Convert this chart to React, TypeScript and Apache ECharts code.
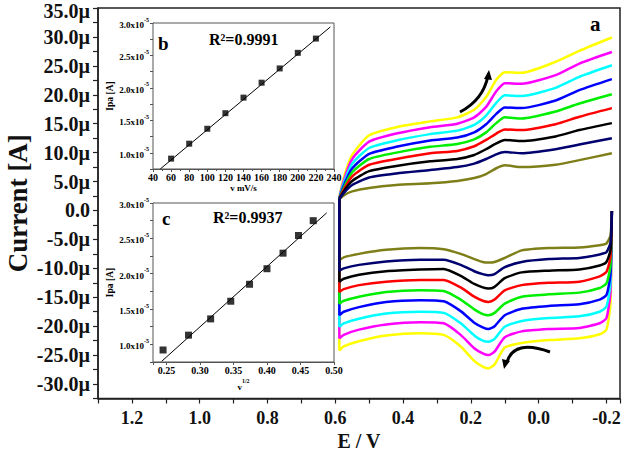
import React, { useEffect, useRef } from "react";
import * as echarts from "echarts";

const FONT = "'Liberation Serif', 'Times New Roman', Times, serif";

// ---- main cyclic voltammograms (E in V, current in µA) ----
const E_LOWER = [-0.216, -0.212, -0.2, -0.18, -0.12, -0.03, 0.05, 0.1, 0.13, 0.148, 0.165, 0.19, 0.23, 0.28, 0.35, 0.45, 0.53, 0.575, 0.588];
const E_UPPER = [0.588, 0.575, 0.55, 0.5, 0.42, 0.32, 0.24, 0.19, 0.155, 0.125, 0.1, 0.05, -0.05, -0.12, -0.216];

const lowerOlive = [-0.1, -4.3, -5.7, -6.0, -6.4, -6.5, -6.9, -8.2, -8.9, -9.0, -8.9, -8.4, -7.5, -6.7, -6.5, -6.8, -7.5, -8.1, -8.6];
const lowerNavy = [-0.1, -5.5, -7.2, -7.6, -8.2, -8.4, -8.9, -9.8, -11.0, -11.2, -11.0, -10.5, -9.4, -8.5, -8.5, -8.8, -9.4, -10.0, -10.4];
const lowerBlack = [-0.1, -6.8, -8.9, -9.5, -10.2, -10.4, -10.7, -11.7, -13.2, -13.5, -13.3, -12.7, -11.3, -10.1, -10.2, -10.5, -11.1, -11.8, -12.3];
const lowerRed = [-0.1, -8.0, -10.6, -11.4, -12.3, -12.5, -12.9, -13.8, -15.4, -15.8, -15.6, -14.9, -13.3, -12.0, -12.0, -12.3, -12.9, -13.6, -14.1];
const lowerGreen = [-0.1, -9.5, -12.6, -13.4, -14.2, -14.5, -14.9, -16.1, -17.7, -18.1, -17.9, -17.1, -15.4, -13.9, -13.8, -14.1, -14.9, -15.6, -16.1];
const lowerBlue = [-0.1, -11.0, -14.6, -15.4, -16.2, -16.5, -17.0, -18.1, -20.0, -20.5, -20.2, -19.4, -17.4, -15.7, -15.5, -15.8, -16.7, -17.5, -18.1];
const lowerCyan = [-0.1, -12.5, -16.6, -17.5, -18.3, -18.6, -19.1, -20.1, -22.2, -22.7, -22.5, -21.6, -19.5, -17.7, -17.5, -17.8, -18.7, -19.5, -20.1];
const lowerMagenta = [-0.1, -14.0, -18.6, -19.5, -20.3, -20.5, -20.9, -21.9, -24.4, -25.0, -24.7, -23.8, -21.5, -19.5, -19.3, -19.7, -20.6, -21.5, -22.1];
const lowerYellow = [-0.1, -16.0, -20.6, -21.4, -22.1, -22.4, -22.9, -23.7, -26.6, -27.3, -27.0, -26.0, -23.5, -21.5, -21.2, -21.6, -22.6, -23.5, -24.2];

const upperOlive = [1.8, 2.6, 3.3, 3.9, 4.4, 4.7, 5.1, 5.6, 6.3, 7.3, 7.8, 7.5, 7.9, 8.7, 9.9];
const upperNavy = [1.8, 3.0, 4.4, 5.7, 6.4, 7.0, 7.5, 8.1, 8.9, 9.7, 10.1, 9.9, 10.6, 11.4, 12.5];
const upperBlack = [1.8, 3.3, 5.1, 6.8, 7.7, 8.5, 8.9, 9.6, 10.6, 11.6, 12.2, 12.0, 12.8, 13.9, 15.1];
const upperRed = [1.8, 3.6, 5.9, 7.9, 8.9, 9.9, 10.3, 11.1, 12.2, 13.3, 14.0, 13.9, 14.9, 16.2, 17.7];
const upperGreen = [1.8, 3.9, 6.6, 8.9, 10.0, 11.0, 11.5, 12.3, 13.5, 15.1, 16.1, 15.9, 17.1, 18.5, 20.1];
const upperBlue = [1.8, 4.3, 7.3, 9.8, 11.0, 12.1, 12.6, 13.5, 14.9, 16.7, 17.8, 17.7, 19.0, 20.8, 22.7];
const upperCyan = [1.8, 4.7, 8.1, 10.8, 12.1, 13.2, 13.8, 14.8, 16.4, 18.6, 19.9, 19.8, 21.2, 23.1, 25.1];
const upperMagenta = [1.8, 5.1, 8.9, 11.9, 13.3, 14.4, 15.0, 16.1, 17.9, 20.6, 22.0, 21.9, 23.4, 25.4, 27.4];
const upperYellow = [1.8, 5.6, 9.6, 13.0, 14.4, 15.4, 16.1, 17.4, 19.6, 22.6, 23.9, 23.8, 25.7, 27.6, 29.9];

// ---- inset b: Ipa vs scan rate ----
const bScanRate = [60, 80, 100, 120, 140, 160, 180, 200, 220];
const bIpa = [0.91, 1.14, 1.37, 1.61, 1.85, 2.08, 2.3, 2.54, 2.76];
const bFitX = [48, 236];
const bFitY = [0.75, 2.94];

// ---- inset c: Ipa vs sqrt(scan rate) ----
const cSqrtRate = [0.245, 0.283, 0.316, 0.346, 0.374, 0.4, 0.424, 0.447, 0.469];
const cIpa = [0.92, 1.13, 1.36, 1.61, 1.85, 2.07, 2.29, 2.54, 2.75];
const cFitX = [0.243, 0.489];
const cFitY = [0.76, 2.86];

const curves = [
  { name: "olive", color: "#7f7f1a", lower: lowerOlive, upper: upperOlive },
  { name: "yellow", color: "#ffff00", lower: lowerYellow, upper: upperYellow },
  { name: "magenta", color: "#ff00ff", lower: lowerMagenta, upper: upperMagenta },
  { name: "cyan", color: "#00ffff", lower: lowerCyan, upper: upperCyan },
  { name: "blue", color: "#0000ff", lower: lowerBlue, upper: upperBlue },
  { name: "green", color: "#00ee00", lower: lowerGreen, upper: upperGreen },
  { name: "red", color: "#ff0000", lower: lowerRed, upper: upperRed },
  { name: "black", color: "#000000", lower: lowerBlack, upper: upperBlack },
  { name: "navy", color: "#00006e", lower: lowerNavy, upper: upperNavy },
];

const pairs = (xs: number[], ys: number[]) => xs.map((x, i) => [x, ys[i]]);

const insetYLabel = (v: number) => {
  const k = Math.round(v / 0.25);
  if (k % 2 !== 0) return "";
  return `{m|${v.toFixed(1)}x10}{s|-5}`;
};
const insetRich = {
  m: { fontSize: 9, fontWeight: "bold", fontFamily: FONT, color: "#000", verticalAlign: "bottom", lineHeight: 13 },
  s: { fontSize: 6, fontWeight: "bold", fontFamily: FONT, color: "#000", verticalAlign: "top", lineHeight: 6 },
};

export default function App() {
  const ref = useRef<HTMLDivElement>(null);
  useEffect(() => {
    if (!ref.current) return;
    const chart = echarts.init(ref.current, undefined, { renderer: "svg" });

    const cvSeries = curves.map((c) => ({
      type: "line",
      name: c.name,
      xAxisIndex: 0,
      yAxisIndex: 0,
      data: pairs(E_LOWER, c.lower).concat(pairs(E_UPPER, c.upper)),
      showSymbol: false,
      symbol: "none",
      smooth: 0.2,
      lineStyle: { color: c.color, width: 2.5 },
      z: 3,
    }));

    const insetAxisLine = { onZero: false, lineStyle: { color: "#555", width: 1 } };
    const mainLabelStyle = { fontSize: 20, fontWeight: "bold", fontFamily: FONT, color: "#111" };

    const option: any = {
      animation: false,
      backgroundColor: "#ffffff",
      textStyle: { fontFamily: FONT },
      grid: [
        { left: 98, top: 8, width: 522, height: 390.5, containLabel: false, outerBoundsMode: "none", show: true, borderColor: "#222", borderWidth: 1.5, backgroundColor: "transparent" },
        { left: 153, top: 23, width: 181, height: 146, containLabel: false, outerBoundsMode: "none", show: true, borderColor: "#555", borderWidth: 1, backgroundColor: "#ffffff", z: 5 },
        { left: 153, top: 203, width: 181, height: 159, containLabel: false, outerBoundsMode: "none", show: true, borderColor: "#555", borderWidth: 1, backgroundColor: "#ffffff", z: 5 },
      ],
      xAxis: [
        {
          gridIndex: 0,
          type: "value",
          min: -0.24,
          max: 1.3,
          inverse: true,
          minInterval: 0.1,
          maxInterval: 0.1,
          name: "E / V",
          nameLocation: "middle",
          nameGap: 32,
          nameTextStyle: { fontSize: 20, fontWeight: "bold", fontFamily: FONT, color: "#111" },
          axisLine: { onZero: false, lineStyle: { color: "#222", width: 1.5 } },
          axisTick: { show: true, length: 5, inside: false, lineStyle: { color: "#222", width: 1.2 } },
          splitLine: { show: false },
          axisLabel: {
            margin: 10,
            fontSize: 18,
            fontWeight: "bold",
            fontFamily: FONT,
            color: "#111",
            formatter: (v: number) => {
              const k = Math.round(v * 10);
              if (Math.abs(v * 10 - k) > 1e-6 || k % 2 !== 0) return "";
              return (k / 10).toFixed(1);
            },
          },
        },
        {
          gridIndex: 1,
          type: "value",
          min: 40,
          max: 240,
          interval: 20,
          name: "v mV/s",
          nameLocation: "middle",
          nameGap: 14,
          nameTextStyle: { fontSize: 9, fontWeight: "bold", fontFamily: FONT, color: "#000" },
          axisLine: insetAxisLine,
          axisTick: { length: 3, lineStyle: { color: "#555" } },
          minorTick: { show: true, splitNumber: 2, length: 2, lineStyle: { color: "#555" } },
          splitLine: { show: false },
          axisLabel: { margin: 3, fontSize: 10, fontWeight: "bold", fontFamily: FONT, color: "#000" },
        },
        {
          gridIndex: 2,
          type: "value",
          min: 0.23,
          max: 0.5,
          minInterval: 0.05,
          maxInterval: 0.05,
          name: "{v|v}{p|1/2}",
          nameLocation: "middle",
          nameGap: 16,
          nameTextStyle: {
            fontSize: 9,
            fontFamily: FONT,
            color: "#000",
            rich: {
              v: { fontSize: 9, fontWeight: "bold", fontFamily: FONT, color: "#000", verticalAlign: "bottom", lineHeight: 13 },
              p: { fontSize: 6, fontWeight: "bold", fontFamily: FONT, color: "#000", verticalAlign: "top", lineHeight: 6 },
            },
          },
          axisLine: insetAxisLine,
          axisTick: { length: 3, lineStyle: { color: "#555" } },
          splitLine: { show: false },
          axisLabel: {
            margin: 3,
            fontSize: 10,
            fontWeight: "bold",
            fontFamily: FONT,
            color: "#000",
            formatter: (v: number) => {
              const k = Math.round(v * 20);
              if (Math.abs(v * 20 - k) > 1e-6) return "";
              return (k / 20).toFixed(2);
            },
          },
        },
      ],
      yAxis: [
        {
          gridIndex: 0,
          type: "value",
          min: -32.5,
          max: 35,
          interval: 2.5,
          name: "Current [A]",
          nameLocation: "middle",
          nameGap: 67,
          nameMoveOverlap: false,
          nameTextStyle: { fontSize: 27, fontWeight: "bold", fontFamily: FONT, color: "#111" },
          axisLine: { onZero: false, lineStyle: { color: "#222", width: 1.5 } },
          axisTick: { length: 5, lineStyle: { color: "#222", width: 1.2 } },
          splitLine: { show: false },
          axisLabel: {
            margin: 8,
            ...mainLabelStyle,
            rich: {
              n: { ...mainLabelStyle },
              t: { ...mainLabelStyle, padding: [6, 0, 0, 0] },
            },
            formatter: (v: number) => {
              const k = Math.round(v / 2.5);
              if (k % 2 !== 0) return "";
              if (k === 0) return "{n|0.0}";
              const s = (k * 2.5).toFixed(1) + "µ";
              return k === 14 ? `{t|${s}}` : `{n|${s}}`;
            },
          },
        },
        {
          gridIndex: 1,
          type: "value",
          min: 0.75,
          max: 3.0,
          interval: 0.25,
          name: "Ipa [A]",
          nameLocation: "middle",
          nameGap: 38,
          nameTextStyle: { fontSize: 9.5, fontWeight: "bold", fontFamily: FONT, color: "#000" },
          axisLine: insetAxisLine,
          axisTick: { length: 3, lineStyle: { color: "#555" } },
          splitLine: { show: false },
          axisLabel: { margin: 4, formatter: insetYLabel, rich: insetRich },
        },
        {
          gridIndex: 2,
          type: "value",
          min: 0.75,
          max: 3.0,
          interval: 0.25,
          name: "Ipa [A]",
          nameLocation: "middle",
          nameGap: 38,
          nameTextStyle: { fontSize: 9.5, fontWeight: "bold", fontFamily: FONT, color: "#000" },
          axisLine: insetAxisLine,
          axisTick: { length: 3, lineStyle: { color: "#555" } },
          splitLine: { show: false },
          axisLabel: { margin: 4, formatter: insetYLabel, rich: insetRich },
        },
      ],
      series: [
        ...cvSeries,
        {
          type: "line",
          xAxisIndex: 1,
          yAxisIndex: 1,
          data: pairs(bFitX, bFitY),
          symbol: "none",
          lineStyle: { color: "#000", width: 1 },
          z: 6,
        },
        {
          type: "scatter",
          xAxisIndex: 1,
          yAxisIndex: 1,
          data: pairs(bScanRate, bIpa),
          symbol: "rect",
          symbolSize: 6,
          itemStyle: { color: "#000" },
          z: 7,
        },
        {
          type: "line",
          xAxisIndex: 2,
          yAxisIndex: 2,
          data: pairs(cFitX, cFitY),
          symbol: "none",
          lineStyle: { color: "#000", width: 1 },
          z: 6,
        },
        {
          type: "scatter",
          xAxisIndex: 2,
          yAxisIndex: 2,
          data: pairs(cSqrtRate, cIpa),
          symbol: "rect",
          symbolSize: 7,
          itemStyle: { color: "#000" },
          z: 7,
        },
      ],
      graphic: [
        { type: "text", x: 590, y: 13, z: 10, style: { text: "a", font: `bold 21px ${FONT}`, fill: "#000" } },
        { type: "text", x: 158, y: 34, z: 10, style: { text: "b", font: `bold 19px ${FONT}`, fill: "#000" } },
        { type: "text", x: 209, y: 31, z: 10, style: { text: "R²=0.9991", font: `bold 16px ${FONT}`, fill: "#000" } },
        { type: "text", x: 162, y: 209, z: 10, style: { text: "c", font: `bold 19px ${FONT}`, fill: "#000" } },
        { type: "text", x: 213, y: 209, z: 10, style: { text: "R²=0.9937", font: `bold 16px ${FONT}`, fill: "#000" } },
        {
          type: "bezierCurve",
          z: 10,
          shape: { x1: 460, y1: 112, cpx1: 483, cpy1: 100, x2: 488, y2: 76 },
          style: { stroke: "#000", lineWidth: 3, fill: null },
        },
        {
          type: "polygon",
          z: 10,
          shape: { points: [[484, 79], [492, 80], [489, 70]] },
          style: { fill: "#000" },
        },
        {
          type: "bezierCurve",
          z: 10,
          shape: { x1: 550, y1: 352, cpx1: 514, cpy1: 339, x2: 507, y2: 362 },
          style: { stroke: "#000", lineWidth: 3, fill: null },
        },
        {
          type: "polygon",
          z: 10,
          shape: { points: [[502, 359], [510, 361], [504, 369]] },
          style: { fill: "#000" },
        },
      ],
    };

    chart.setOption(option);
    return () => chart.dispose();
  }, []);

  return (
    <div
      ref={ref}
      style={{ position: "fixed", left: 0, top: 0, width: 629, height: 452, background: "#fff" }}
    />
  );
}
